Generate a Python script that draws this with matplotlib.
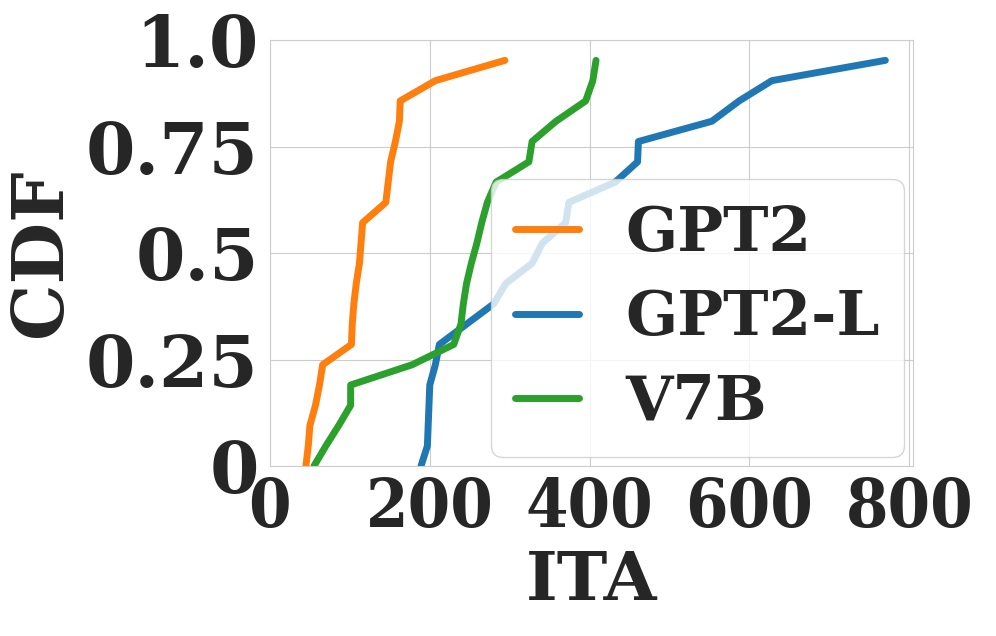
import numpy as np
import matplotlib
matplotlib.use("Agg")
import matplotlib.pyplot as plt
from matplotlib import font_manager
import seaborn as sns

# CDF levels (i/21) and sorted ITA values per model
cdf = [i / 21 for i in range(21)]

gpt2 = [45, 48, 50, 57, 62, 66, 102, 103, 105, 108, 112, 114, 116, 145, 148,
        151, 157, 162, 163, 207, 294]
gpt2_l = [189, 197, 198, 199, 200, 207, 212, 246, 280, 295, 328, 341, 370, 374,
          432, 460, 461, 553, 587, 628, 770]
v7b = [55, 70, 86, 101, 101, 178, 230, 239, 242, 246, 252, 259, 265, 272, 283,
       324, 328, 358, 395, 404, 408]

labels = ['GPT2', 'GPT2-L', 'V7B']
colors = ['#ff7f0e', '#1f77b4', '#2ca02c']

xticks = [0, 200, 400, 600, 800]
yticks = [0, 0.25, 0.5, 0.75, 1.0]
yticklabels = ['0', '0.25', '0.5', '0.75', '1.0']

sns.set_style('whitegrid')
plt.rcParams['font.family'] = ['DejaVu Serif']
plt.rcParams['font.weight'] = 'bold'

# condensed serif for the x tick labels, if the font file is around
cond = None
for f in font_manager.fontManager.ttflist:
    if 'SerifCondensed-Bold.' in f.fname:
        cond = font_manager.FontProperties(fname=f.fname, size=49)
        break
if cond is None:
    cond = font_manager.FontProperties(family='DejaVu Serif', weight='bold', size=48)

fig = plt.figure(figsize=(9.96, 6.36), dpi=100)
ax = fig.add_axes([0.271, 0.267, 0.646, 0.670])

for xs, lab, c in zip([gpt2, gpt2_l, v7b], labels, colors):
    ax.plot(xs, cdf, color=c, lw=5, label=lab, solid_capstyle='round')

ax.set_xlim(0, 805)
ax.set_ylim(0, 1.0)
ax.set_xticks(xticks)
ax.set_yticks(yticks)
ax.set_yticklabels(yticklabels, fontsize=51, fontweight='bold')
ax.set_xticklabels([str(t) for t in xticks], fontproperties=cond)
ax.tick_params(axis='y', length=0, pad=8)
ax.tick_params(axis='x', length=0, pad=7)
ax.set_xlabel('ITA', fontsize=49, fontweight='bold', labelpad=6)
ax.set_ylabel('CDF', fontsize=51, fontweight='bold', labelpad=7)

leg = ax.legend(loc='lower right', prop={'size': 44, 'weight': 'bold'},
                handlelength=1.05, handletextpad=0.75, labelspacing=0.4,
                borderpad=0.4, borderaxespad=0.15)

fig.savefig('out.png', dpi=100)
